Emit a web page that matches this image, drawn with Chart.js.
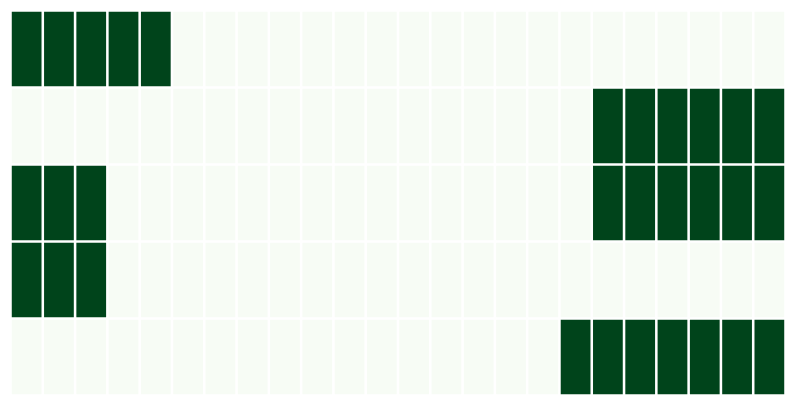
<!DOCTYPE html>
<html>
<head>
<meta charset="utf-8">
<script src="https://cdn.jsdelivr.net/npm/chart.js@4"></script>
<style>
html,body{margin:0;padding:0;background:#fff;}
#wrap{width:794px;height:405px;}
</style>
</head>
<body>
<div id="wrap"><canvas id="c" width="794" height="405"></canvas></div>
<script>
const columns = ["1","2","3","4","5","6","7","8","9","10","11","12","13","14","15","16","17","18","19","20","21","22","23","24"];
const rows = ["A","B","C","D","E"];
const row0 = [1,1,1,1,1,0,0,0,0,0,0,0,0,0,0,0,0,0,0,0,0,0,0,0];
const row1 = [0,0,0,0,0,0,0,0,0,0,0,0,0,0,0,0,0,0,1,1,1,1,1,1];
const row2 = [1,1,1,0,0,0,0,0,0,0,0,0,0,0,0,0,0,0,1,1,1,1,1,1];
const row3 = [1,1,1,0,0,0,0,0,0,0,0,0,0,0,0,0,0,0,0,0,0,0,0,0];
const row4 = [0,0,0,0,0,0,0,0,0,0,0,0,0,0,0,0,0,1,1,1,1,1,1,1];
const values = [row0,row1,row2,row3,row4];

const LOW = '#f7fcf5', HIGH = '#00441b';
const datasets = values.map((r, i) => ({
  label: rows[i],
  data: r.map(() => [i, i + 1]),
  backgroundColor: r.map(v => v ? HIGH : LOW),
  borderColor: '#ffffff',
  borderWidth: 1.6,
  borderSkipped: false,
  barPercentage: 1,
  categoryPercentage: 1,
  grouped: false
}));

new Chart(document.getElementById('c'), {
  type: 'bar',
  data: { labels: columns, datasets },
  options: {
    responsive: false,
    animation: false,
    layout: { padding: { left: 10.5, right: 8.5, top: 10.5, bottom: 9.5 } },
    plugins: { legend: { display: false }, tooltip: { enabled: false } },
    scales: {
      x: { display: false, offset: true },
      y: { display: false, min: 0, max: 5, reverse: true }
    }
  }
});
</script>
</body>
</html>
